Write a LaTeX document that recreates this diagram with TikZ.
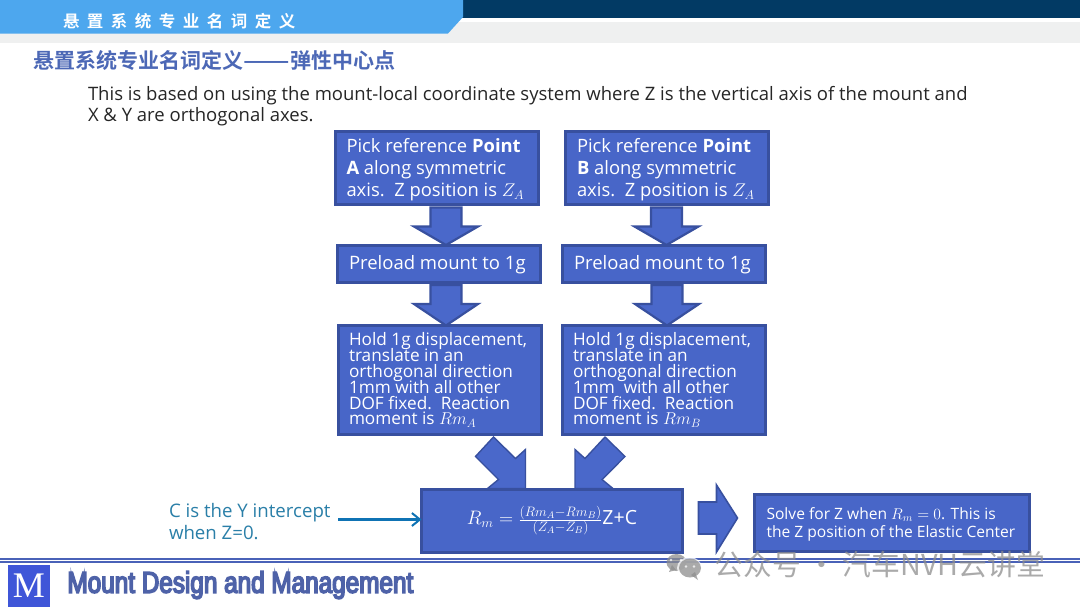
\RequirePackage{fix-cm}
\documentclass[tikz,border=0pt]{standalone}
\usepackage{graphicx}
\usepackage{fontspec}
\setmainfont{Open Sans}
\newfontfamily\cjk{Noto Sans CJK SC}
\newfontfamily\cjkb{Noto Sans CJK SC}[BoldFont={Noto Sans CJK SC Bold}]
\newfontfamily\impactish[FakeBold=5,FakeStretch=0.81]{Liberation Sans}
\newfontfamily\logoserif{Liberation Serif}
\usetikzlibrary{calc,arrows.meta}
\definecolor{boxfill}{HTML}{4866C8}
\definecolor{boxline}{HTML}{38509F}
\definecolor{arrowfill}{HTML}{4A68CA}
\definecolor{headerblue}{HTML}{4DA7EE}
\definecolor{navyband}{HTML}{023A64}
\definecolor{greyband}{HTML}{EFF0F0}
\definecolor{titleblue}{HTML}{4C68B6}
\definecolor{noteteal}{HTML}{2A7FA8}
\definecolor{pointer}{HTML}{0F73B4}
\definecolor{footline}{HTML}{4A62B8}
\definecolor{footertext}{HTML}{4E62A8}
\definecolor{logoblue}{HTML}{3F56D8}
\definecolor{wmgrey}{HTML}{8E8E8E}
\tikzset{
  flowbox/.style={draw=boxline,fill=boxfill,line width=3pt,outer sep=0pt,inner sep=0pt,
    anchor=north west,text=white,align=flush left},
  blockarrow/.style={draw=boxline,fill=arrowfill,line width=2.2pt,line join=miter},
  plainlabel/.style={inner sep=0pt,outer sep=0pt,anchor=west,align=flush left},
  textA/.style={font=\fontsize{18.4}{21.8}\selectfont},
  textB/.style={font=\fontsize{18.5}{21.8}\selectfont,text height=12pt,text depth=0pt},
  textC/.style={font=\fontsize{17.2}{15.85}\selectfont},
}
\newcommand{\tightlines}{\lineskiplimit=-20pt\relax}
\newcommand{\blockdown}[3]{%
  \coordinate (top) at ($(#1.south)+(#3,3)$);
  \coordinate (tip) at (top |- #2.north);
  \draw[blockarrow] ($(top)+(-15.5,0)$) -- ($(top)+(15.5,0)$) -- ($(top)+(15.5,19)$)
    -- ($(top)+(32,19)$) -- (tip) -- ($(top)+(-32,19)$) -- ($(top)+(-15.5,19)$) -- cycle;
}
\begin{document}
\begin{tikzpicture}[x=1pt,y=-1pt]
\useasboundingbox (0,0) rectangle (1080,608);
\fill[white] (0,0) rectangle (1080,608);
% header
\fill[greyband] (0,22) rectangle (1080,43);
\fill[navyband] (462,0) rectangle (1080,17.5);
\fill[headerblue] (0,0) -- (463,0) -- (463,17) -- (448,33.5) -- (0,33.5) -- cycle;
\node[plainlabel,text=white] (headline) at (63,21.5) {\cjkb\fontsize{16.5}{18}\selectfont\bfseries 悬\hspace{7.5pt}置\hspace{7.5pt}系\hspace{7.5pt}统\hspace{7.5pt}专\hspace{7.5pt}业\hspace{7.5pt}名\hspace{7.5pt}词\hspace{7.5pt}定\hspace{7.5pt}义};
\node[plainlabel,text=titleblue] (title) at (34,60.5) {\cjkb\fontsize{21}{23}\selectfont\bfseries 悬置系统专业名词定义\scalebox{1.3}[1]{——}弹性中心点};
\node[plainlabel,text=black!85,font=\fontsize{18.5}{21.6}\selectfont] (intro) at (88,106) {This is based on using the mount-local coordinate system where Z is the vertical axis of the mount and\\X \& Y are orthogonal axes.};
% column A
\node[flowbox,textA,minimum width=203,minimum height=73,text width=181] (a1) at (335.5,131.5) {\rule{0pt}{18pt}Pick reference \textbf{Point}\\\textbf{A} along symmetric\\axis.\ \ Z position is $Z_A$};
\node[flowbox,textB,minimum width=203,minimum height=37,text width=179] (a2) at (337,245) {Preload mount to 1g};
\node[flowbox,textC,minimum width=203,minimum height=109,text width=181] (a3) at (338,325.5) {\tightlines\mbox{Hold 1g displacement,}\\translate in an\\orthogonal direction\\1mm with all other\\DOF fixed.\ \ Reaction\\moment is $Rm_A$};
% column B
\node[flowbox,textA,minimum width=203,minimum height=73,text width=180] (b1) at (565.5,131.5) {\rule{0pt}{18pt}Pick reference \textbf{Point}\\\textbf{B} along symmetric\\axis.\ \ Z position is $Z_A$};
\node[flowbox,textB,minimum width=203,minimum height=37,text width=179] (b2) at (562,245) {Preload mount to 1g};
\node[flowbox,textC,minimum width=203,minimum height=109,text width=181] (b3) at (562,325.5) {\tightlines\mbox{Hold 1g displacement,}\\translate in an\\orthogonal direction\\1mm\ \ with all other\\DOF fixed.\ \ Reaction\\moment is $Rm_B$};
% lower row
\node[flowbox,minimum width=261,minimum height=63,align=center,font=\fontsize{19.5}{20}\selectfont] (eq) at (421.5,489) {$R_m=\frac{(Rm_A-Rm_B)}{(Z_A-Z_B)}$Z+C};
\node[flowbox,minimum width=275,minimum height=57,text width=251,font=\fontsize{15.6}{18.5}\selectfont] (solve) at (754.5,494) {\rule{0pt}{16pt}\mbox{Solve for Z when $R_m=0$. This is}\\\mbox{the Z position of the Elastic Center}};
% block arrows
\blockdown{a1}{a2}{9}
\blockdown{a2}{a3}{7.5}
\blockdown{b1}{b2}{-0.5}
\blockdown{b2}{b3}{3.5}
\draw[blockarrow,line width=1.4pt] ($(a3.south)+(54,2.5)$) -- ++(22,21.5) -- ++(10,-9) -- ++(0,39) -- ++(-38,0) -- ++(11,-9) -- ++(-23,-23) -- cycle;
\draw[blockarrow,line width=1.4pt] ($(b3.south)+(-58.5,2.5)$) -- ++(-20,21.5) -- ++(-10,-9) -- ++(0,39) -- ++(38,0) -- ++(-11,-9) -- ++(23,-23) -- cycle;
\coordinate (ra) at ($(eq.east)+(16,-18.5)$);
\draw[blockarrow,line width=1.6pt] (ra) -- ++(18,0) -- ++(0,-17) -- ($(solve.west)+(-17,-4.5)$) -- ($(ra)+(18,50)$) -- ++(0,-18) -- ++(-18,0) -- cycle;
% note
\node[plainlabel,text=noteteal,font=\fontsize{18.65}{22}\selectfont] (note) at (169,522) {C is the Y intercept\\when Z=0.};
\coordinate (noteend) at (338,519.5);
\draw[pointer,line width=3pt,-{Straight Barb[length=8pt,width=13pt,line width=2pt]}] (noteend) -- (noteend -| eq.west);
% footer
\draw[footline,line width=2pt] (0,558.5) -- (1080,558.5);
\draw[footline,line width=2pt] (0,561.5) -- (1080,561.5);
\node[fill=logoblue,text=white,minimum width=42,minimum height=42,inner sep=0pt,outer sep=0pt,anchor=north west,font=\logoserif\fontsize{36}{36}\selectfont] (logo) at (8,565) {M};
\node[plainlabel,text=footertext,font=\impactish\fontsize{30}{32}\selectfont] (foot) at (67.5,585) {Mount Design and Management};
% watermark
\begin{scope}[opacity=.75]
\fill[wmgrey] (676.5,562.5) ellipse (10 and 8.5);
\fill[wmgrey] (669,572) -- (672,565) -- (676,570) -- cycle;
\fill[white] (671,560) circle (1.3) (681,560) circle (1.3);
\fill[white] (689.5,568) ellipse (12.5 and 11);
\fill[wmgrey] (690,568) ellipse (11 and 9.5);
\fill[wmgrey] (698,580) -- (695,572) -- (691,575) -- cycle;
\fill[white] (686,566.5) circle (1.3) (694,566.5) circle (1.3);
\node[plainlabel,text=wmgrey] (wm) at (714.5,565) {\cjk\fontsize{28.8}{30}\selectfont 公众号 · 汽车NVH云讲堂};
\end{scope}
\end{tikzpicture}
\end{document}
